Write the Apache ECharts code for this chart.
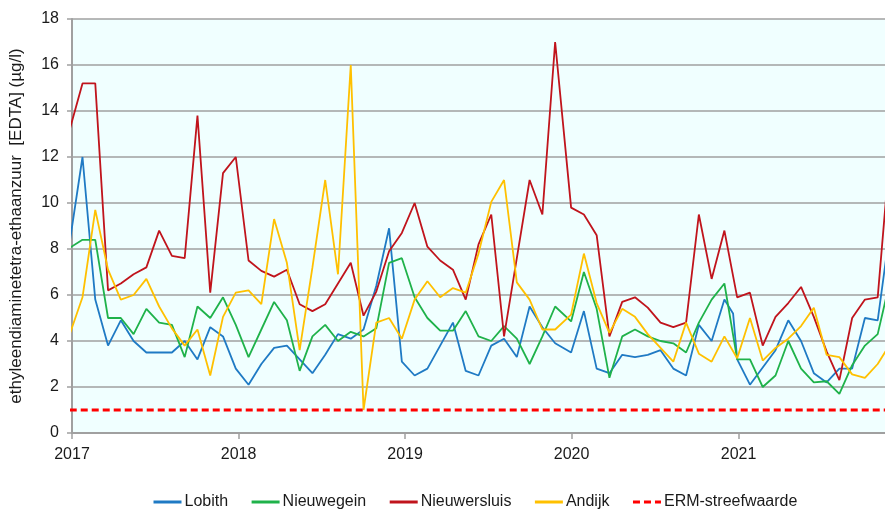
<!DOCTYPE html>
<html lang="nl">
<head>
    <meta charset="UTF-8">
    <title>EDTA in Rijn- en Maaswater</title>
    <script src="https://cdn.jsdelivr.net/npm/echarts@6/dist/echarts.min.js"></script>
    <style>
        html, body { margin: 0; padding: 0; background: #fff; }
        #chart { width: 885px; height: 511px; }
    </style>
</head>
<body>
    <div id="chart"></div>

    <script>
        // sample dates (4-weekly), one extra Lobith sample in Dec 2020
        const sampleDates = [
            '2016-12-27', '2017-01-24', '2017-02-21', '2017-03-21', '2017-04-18', '2017-05-16', '2017-06-13',
            '2017-07-11', '2017-08-08', '2017-09-05', '2017-10-03', '2017-10-31', '2017-11-28', '2017-12-26',
            '2018-01-23', '2018-02-20', '2018-03-20', '2018-04-17', '2018-05-15', '2018-06-12', '2018-07-10',
            '2018-08-07', '2018-09-04', '2018-10-02', '2018-10-30', '2018-11-27', '2018-12-25',
            '2019-01-22', '2019-02-19', '2019-03-19', '2019-04-16', '2019-05-14', '2019-06-11', '2019-07-09',
            '2019-08-06', '2019-09-03', '2019-10-01', '2019-10-29', '2019-11-26', '2019-12-31',
            '2020-01-28', '2020-02-25', '2020-03-24', '2020-04-21', '2020-05-19', '2020-06-16', '2020-07-14',
            '2020-08-11', '2020-09-08', '2020-10-06', '2020-11-03', '2020-12-01', '2020-12-20', '2020-12-29',
            '2021-01-26', '2021-02-23', '2021-03-23', '2021-04-20', '2021-05-18', '2021-06-15', '2021-07-13',
            '2021-08-10', '2021-09-07', '2021-10-05', '2021-11-02', '2021-11-30'
        ];

        const lobith = [
            8.3, 12.0, 5.8, 3.8, 4.9, 4.0, 3.5, 3.5, 3.5, 4.0, 3.2, 4.6, 4.2, 2.8,
            2.1, 3.0, 3.7, 3.8, 3.2, 2.6, 3.4, 4.3, 4.1, 4.5, 6.4, 8.9, 3.1,
            2.5, 2.8, 3.8, 4.8, 2.7, 2.5, 3.8, 4.1, 3.3, 5.5, 4.6, 3.9, 3.5,
            5.3, 2.8, 2.6, 3.4, 3.3, 3.4, 3.6, 2.8, 2.5, 4.7, 4.0, 5.8, 5.2, 3.2,
            2.1, 2.85, 3.6, 4.9, 4.0, 2.6, 2.2, 2.8, 2.8, 5.0, 4.9, 9.0
        ];
        const nieuwegein = [
            8.05, 8.4, 8.4, 5.0, 5.0, 4.3, 5.4, 4.8, 4.7, 3.3, 5.5, 5.0, 5.9, 4.7,
            3.3, 4.5, 5.7, 4.9, 2.7, 4.2, 4.7, 4.0, 4.4, 4.2, 4.55, 7.4, 7.6,
            5.9, 5.0, 4.45, 4.45, 5.3, 4.2, 4.0, 4.65, 4.1, 3.0, 4.2, 5.5, 4.85,
            7.0, 5.4, 2.4, 4.2, 4.5, 4.2, 4.0, 3.9, 3.5, 4.8, 5.8, 6.5, null, 3.2,
            3.2, 2.0, 2.5, 4.0, 2.8, 2.2, 2.25, 1.7, 2.95, 3.8, 4.3, 6.7
        ];
        const nieuwersluis = [
            13.2, 15.2, 15.2, 6.2, 6.5, 6.9, 7.2, 8.8, 7.7, 7.6, 13.8, 6.1, 11.3, 12.0,
            7.5, 7.05, 6.8, 7.1, 5.6, 5.3, 5.6, 6.5, 7.4, 5.1, 6.15, 7.9, 8.7,
            10.0, 8.1, 7.5, 7.1, 5.8, 8.2, 9.5, 4.2, 7.6, 11.0, 9.5, 17.0, 9.8,
            9.5, 8.6, 4.2, 5.7, 5.9, 5.45, 4.8, 4.6, 4.8, 9.5, 6.7, 8.8, null, 5.9,
            6.1, 3.8, 5.05, 5.65, 6.35, 5.05, 3.55, 2.3, 5.0, 5.8, 5.9, 12.5
        ];
        const andijk = [
            4.3, 5.9, 9.7, 7.1, 5.8, 6.0, 6.7, 5.5, 4.55, 3.8, 4.5, 2.5, 5.05, 6.1,
            6.2, 5.6, 9.3, 7.4, 3.6, 7.2, 11.0, 6.9, 16.0, 1.0, 4.8, 5.0, 4.1,
            5.8, 6.6, 5.9, 6.3, 6.1, 7.8, 10.05, 11.0, 6.55, 5.8, 4.5, 4.5, 5.15,
            7.8, 5.65, 4.35, 5.4, 5.05, 4.3, 3.7, 3.1, 4.8, 3.45, 3.1, 4.2, null, 3.25,
            5.0, 3.15, 3.7, 4.1, 4.65, 5.45, 3.4, 3.3, 2.55, 2.4, 3.0, 3.9
        ];
        const ermStreefwaarde = 1; // µg/l

        const yTicks = [0, 2, 4, 6, 8, 10, 12, 14, 16, 18];

        const pair = vals => sampleDates.map((d, i) => [d, vals[i]]);
        const ermLine = sampleDates.map(d => [d, ermStreefwaarde]);

        const txt = '#1a1a1a';
        const font = 'Liberation Sans, Arial, sans-serif';

        function lineSeries(name, color, vals) {
            return {
                name: name,
                type: 'line',
                data: pair(vals),
                symbol: 'none',
                connectNulls: true,
                lineStyle: { color: color, width: 1.8 },
                itemStyle: { color: color },
                clip: true
            };
        }

        const chart = echarts.init(document.getElementById('chart'));
        chart.setOption({
            animation: false,
            textStyle: { fontFamily: font },
            grid: {
                left: 71, right: 0, top: 19, bottom: 78,
                show: true, backgroundColor: '#f0ffff', borderWidth: 0
            },
            legend: {
                top: 489,
                left: 147,
                itemWidth: 28,
                itemHeight: 14,
                itemGap: 22,
                itemStyle: { opacity: 0 },
                lineStyle: { width: 3 },
                textStyle: { fontSize: 16, color: txt, fontFamily: font, padding: [0, 0, 0, -2] },
                data: ['Lobith', 'Nieuwegein', 'Nieuwersluis', 'Andijk', 'ERM-streefwaarde']
            },
            xAxis: {
                type: 'time',
                min: '2017-01-01',
                max: '2021-11-18',
                splitNumber: 5,
                minInterval: 365 * 24 * 3600 * 1000,
                axisLine: { lineStyle: { color: '#a0a0a0', width: 2 } },
                axisTick: { show: true, length: 6, lineStyle: { color: '#a0a0a0', width: 1.5 } },
                axisLabel: {
                    color: txt, fontSize: 16, margin: 14, showMaxLabel: false,
                    formatter: v => String(new Date(v).getFullYear())
                },
                splitLine: { show: false }
            },
            yAxis: {
                type: 'value',
                min: yTicks[0],
                max: yTicks[yTicks.length - 1],
                interval: yTicks[1] - yTicks[0],
                name: 'ethyleendiaminetetra-ethaanzuur  [EDTA] (µg/l)',
                nameLocation: 'middle',
                nameGap: 47,
                nameTextStyle: { color: txt, fontSize: 17, fontFamily: font },
                axisLine: { show: true, lineStyle: { color: '#a0a0a0', width: 2 } },
                axisTick: { show: true, length: 5, lineStyle: { color: '#a0a0a0', width: 1.5 } },
                axisLabel: { color: txt, fontSize: 16, margin: 13 },
                splitLine: { lineStyle: { color: '#a0a0a0', width: 1.6 } }
            },
            series: [
                lineSeries('Lobith', '#1f7ac4', lobith),
                lineSeries('Nieuwegein', '#1fb24a', nieuwegein),
                lineSeries('Nieuwersluis', '#c0141c', nieuwersluis),
                lineSeries('Andijk', '#ffc000', andijk),
                {
                    name: 'ERM-streefwaarde',
                    type: 'line',
                    data: ermLine,
                    symbol: 'none',
                    lineStyle: { color: '#ff0000', width: 3, type: [7, 4] },
                    itemStyle: { color: '#ff0000' },
                    clip: true
                }
            ]
        });
    </script>
</body>
</html>
